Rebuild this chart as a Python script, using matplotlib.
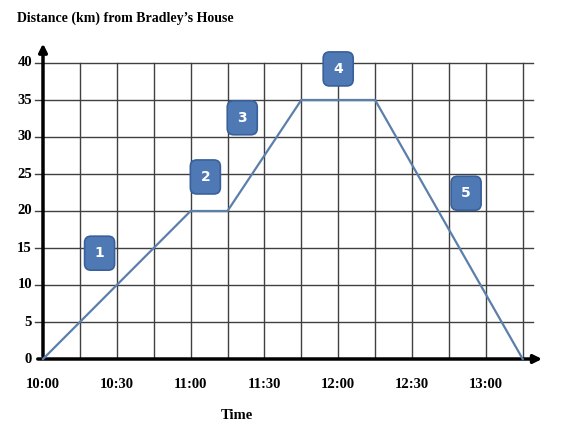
import matplotlib.pyplot as plt
from matplotlib.patches import FancyBboxPatch

# minutes after 10:00 and distance in km
times = [0, 60, 75, 105, 135, 195]
distance = [0, 20, 20, 35, 35, 0]

tick_minutes = [0, 30, 60, 90, 120, 150, 180]
tick_labels = ['10:00', '10:30', '11:00', '11:30', '12:00', '12:30', '13:00']
y_ticks = [0, 5, 10, 15, 20, 25, 30, 35, 40]

# numbered stage markers (minute, km)
stage_nums = ['1', '2', '3', '4', '5']
stage_x = [23, 66, 81, 120, 172]
stage_y = [14.3, 24.6, 32.6, 39.2, 22.4]

fig = plt.figure(figsize=(5.69, 4.36), dpi=100)
px_w, px_h = 569, 436
x0, x1 = 43, 548
y0, y1 = 359, 36
ax = fig.add_axes([x0 / px_w, 1 - y0 / px_h, (x1 - x0) / px_w, (y0 - y1) / px_h])
min_per_px = 15 / 36.9
km_per_px = 5 / 37.0
ax.set_xlim(0, (x1 - x0) * min_per_px)
ax.set_ylim(0, (y0 - y1) * km_per_px)
ax.axis('off')

grid_col = '#404040'
# grid
for m in range(15, 196, 15):
    ax.plot([m, m], [0, 40], color=grid_col, lw=1.0, zorder=1)
for v in y_ticks[1:]:
    ax.plot([-8 * min_per_px, 199], [v, v], color=grid_col, lw=1.0, zorder=1, clip_on=False)

# axes with arrows
ax.annotate('', xy=(204, 0), xytext=(-8 * min_per_px, 0),
            arrowprops=dict(arrowstyle='-|>', color='black', lw=2.5, mutation_scale=12),
            annotation_clip=False, zorder=3)
ax.annotate('', xy=(0, 43.0), xytext=(0, 0),
            arrowprops=dict(arrowstyle='-|>', color='black', lw=2.5, mutation_scale=12),
            annotation_clip=False, zorder=3)

serif = dict(family='Liberation Serif', fontweight='bold', fontsize=10.5)
for v in y_ticks:
    ax.text(-11 * min_per_px, v, str(v), ha='right', va='center', **serif)
for m, lab in zip(tick_minutes, tick_labels):
    ax.text(m, -2.5, lab, ha='center', va='top', **serif)

ax.plot(times, distance, color='#5b7fab', lw=1.6, zorder=4, clip_on=False)

# stage boxes
bw, bh = 30 * min_per_px, 34 * km_per_px
for n, sx, sy in zip(stage_nums, stage_x, stage_y):
    box = FancyBboxPatch((sx - bw / 2, sy - bh / 2), bw, bh,
                         boxstyle='round,pad=0,rounding_size=2.6',
                         mutation_aspect=km_per_px / min_per_px,
                         facecolor='#4e79b5', edgecolor='#39609a', lw=1.2,
                         zorder=5, clip_on=False)
    ax.add_patch(box)
    ax.text(sx, sy, n, ha='center', va='center', color='white',
            fontsize=10, fontweight='bold', family='DejaVu Sans', zorder=6)

fig.text(17 / px_w, 1 - 18 / px_h, 'Distance (km) from Bradley\u2019s House',
         ha='left', va='center', family='Liberation Serif', fontweight='bold', fontsize=10)
fig.text(237 / px_w, 1 - 415 / px_h, 'Time', ha='center', va='center', **serif)

fig.savefig('out.png', dpi=100)
